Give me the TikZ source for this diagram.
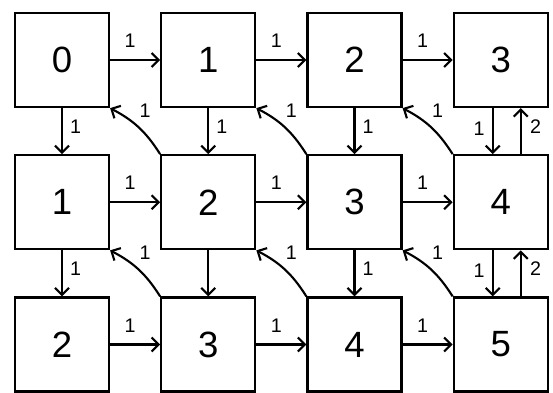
\documentclass[tikz,border=0pt]{standalone}
\usepackage{fontspec}
\setmainfont{Liberation Sans}
\usetikzlibrary{
    positioning,      % relative placement of the boxes
    arrows.meta       % arrow tips
}

\begin{document}
\begin{tikzpicture}[
        node distance=1.15cm and 1.25cm,
        box/.style={
            rectangle,
            draw=black,
            line width=1.6pt,
            minimum width=2.35cm,
            minimum height=2.35cm,
            align=center,
            font=\fontsize{26}{30}\selectfont
        },
        arrow/.style={
            -{Straight Barb[length=5pt,width=10pt]},
            line width=1.5pt
        },
        wt/.style={
            font=\fontsize{14}{16}\selectfont,
            inner sep=2pt
        }
    ]
    \useasboundingbox (0,0) rectangle (13.825,-9.8);

    % first row
    \node[box] (a0) at (1.55,-1.5) {0};
    \node[box, right=of a0] (a1) {1};
    \node[box, right=of a1] (a2) {2};
    \node[box, right=of a2] (a3) {3};

    % second row
    \node[box, below=of a0] (b0) {1};
    \node[box, right=of b0] (b1) {2};
    \node[box, right=of b1] (b2) {3};
    \node[box, right=of b2] (b3) {4};

    % third row
    \node[box, below=of b0] (c0) {2};
    \node[box, right=of c0] (c1) {3};
    \node[box, right=of c1] (c2) {4};
    \node[box, right=of c2] (c3) {5};

    % horizontal edges
    \foreach \r in {a,b,c}{
        \foreach \i/\j in {0/1,1/2,2/3}{
            \draw[arrow] (\r\i) -- node[wt, pos=0.4, above=6pt] {1} (\r\j);
        }
    }

    % vertical edges
    \draw[arrow] (a0) -- node[wt, pos=0.4, right=3pt] {1} (b0);
    \draw[arrow] (a1) -- node[wt, pos=0.4, right=3pt] {1} (b1);
    \draw[arrow] (a2) -- node[wt, pos=0.4, right=3pt] {1} (b2);
    \draw[arrow] (b0) -- node[wt, pos=0.4, right=3pt] {1} (c0);
    \draw[arrow] (b1) -- (c1);
    \draw[arrow] (b2) -- node[wt, pos=0.4, right=3pt] {1} (c2);

    % last column, down and back up
    \draw[arrow] ([xshift=-0.2cm]a3.south) -- node[wt, pos=0.45, left=3pt] {1} ([xshift=-0.2cm]b3.north);
    \draw[arrow] ([xshift=0.5cm]b3.north) -- node[wt, pos=0.6, right=4pt] {2} ([xshift=0.5cm]a3.south);
    \draw[arrow] ([xshift=-0.2cm]b3.south) -- node[wt, pos=0.45, left=3pt] {1} ([xshift=-0.2cm]c3.north);
    \draw[arrow] ([xshift=0.5cm]c3.north) -- node[wt, pos=0.6, right=4pt] {2} ([xshift=0.5cm]b3.south);

    % diagonal edges
    \draw[arrow] (b1.north west) to[bend right=15] node[wt, pos=0.6, above right=2pt] {1} (a0.south east);
    \draw[arrow] (b2.north west) to[bend right=15] node[wt, pos=0.6, above right=2pt] {1} (a1.south east);
    \draw[arrow] (b3.north west) to[bend right=15] node[wt, pos=0.6, above right=2pt] {1} (a2.south east);
    \draw[arrow] (c1.north west) to[bend right=15] node[wt, pos=0.6, above right=2pt] {1} (b0.south east);
    \draw[arrow] (c2.north west) to[bend right=15] node[wt, pos=0.6, above right=2pt] {1} (b1.south east);
    \draw[arrow] (c3.north west) to[bend right=15] node[wt, pos=0.6, above right=2pt] {1} (b2.south east);
\end{tikzpicture}
\end{document}
